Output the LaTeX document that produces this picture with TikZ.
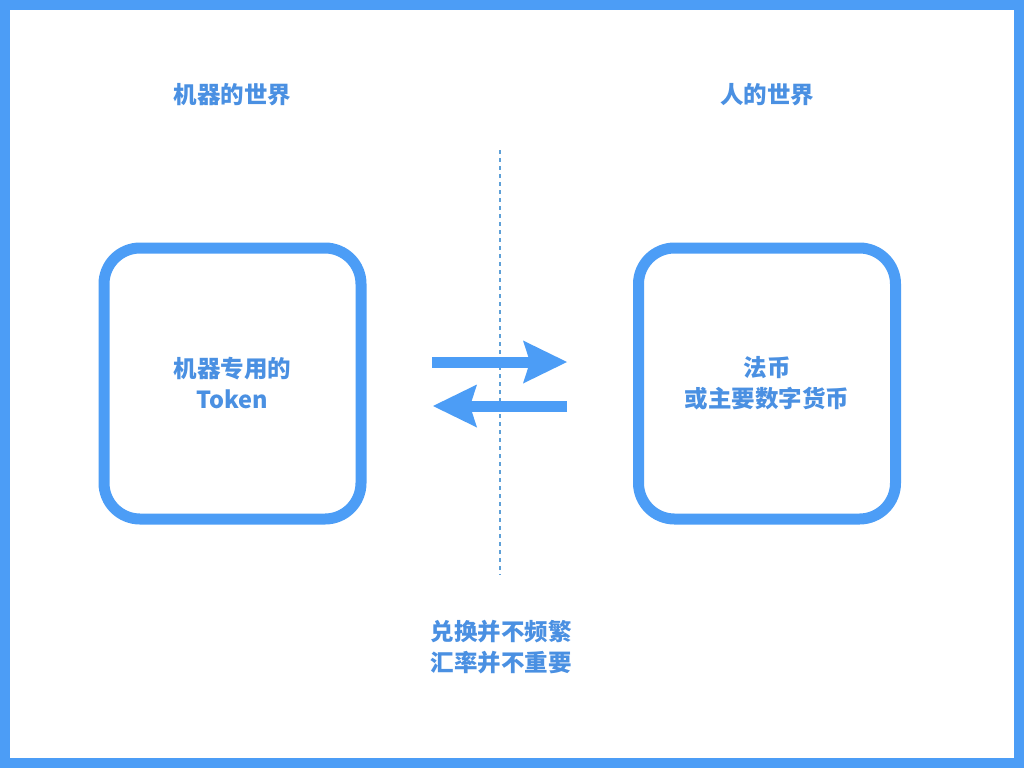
\documentclass[tikz,border=0pt]{standalone}
\usepackage{fontspec}
\setmainfont{Noto Sans CJK SC}
\usetikzlibrary{arrows.meta}
\definecolor{frameblue}{RGB}{76,157,246}
\definecolor{textblue}{RGB}{74,144,226}
\definecolor{dotblue}{RGB}{95,160,215}
\tikzset{
  lbl/.style={text=textblue, font=\fontsize{23.5}{31}\selectfont\bfseries, align=center, inner sep=0pt},
  worldbox/.style={draw=frameblue, line width=11pt, rounded corners=36pt, minimum width=257pt, minimum height=271pt, lbl},
  bigarrow/.style={draw=frameblue, line width=11pt, -{Stealth[length=44pt,width=43pt,inset=7pt,line width=0pt]}},
  divider/.style={draw=dotblue, line width=1.6pt, dash pattern=on 4pt off 4pt}
}
\begin{document}
\begin{tikzpicture}[x=1pt,y=-1pt]
\useasboundingbox (0,0) rectangle (1024,768);
\fill[frameblue] (0,0) rectangle (1024,768);
\fill[white] (9.5,10) rectangle (1014,758);
\node[lbl] (t1) at (232.5,95) {机器的世界};
\node[lbl] (t2) at (767,95) {人的世界};
\node[worldbox] (m) at (232.5,383.5) {机器专用的\\Token};
\node[worldbox] (h) at (767,383.5) {法币\\或主要数字货币};
\coordinate (d1) at (500,150);
\coordinate (d2) at (500,575);
\draw[divider] (d1) -- (d2);
\coordinate (a1) at (432,362);
\coordinate (a2) at (567,362);
\coordinate (b1) at (567,406);
\coordinate (b2) at (433,406);
\draw[bigarrow] (a1) -- (a2);
\draw[bigarrow] (b1) -- (b2);
\node[lbl] (note) at (501,647.5) {兑换并不频繁\\汇率并不重要};
\end{tikzpicture}
\end{document}
